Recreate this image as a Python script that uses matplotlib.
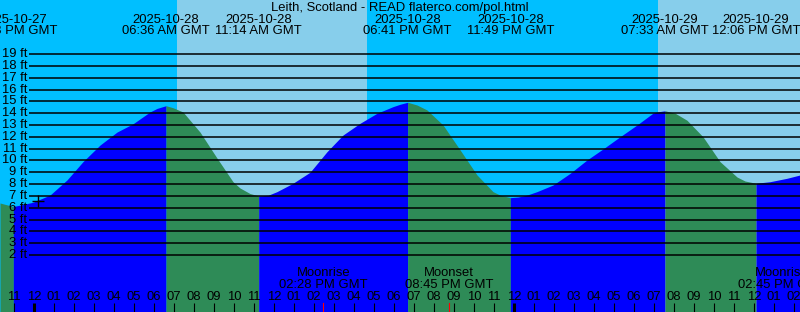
import numpy as np
import matplotlib
matplotlib.use("Agg")
import matplotlib.pyplot as plt
from matplotlib.transforms import blended_transform_factory

# hours since 2025-10-28 00:00 GMT, tide height in ft
tide_hours = [-1.7, -1.033, -0.05, 0.8, 1.65, 2.45, 3.3, 4.15, 4.95, 5.8, 6.15, 6.6,
              6.95, 7.45, 8.3, 9.15, 9.95, 10.3, 10.8, 11.233, 11.7, 12.15, 12.95,
              13.8, 14.65, 15.45, 16.3, 17.15, 17.95, 18.3, 18.683, 19.15, 19.65,
              20.45, 21.3, 22.15, 22.95, 23.3, 23.817, 24.2, 24.65, 25.15, 25.95,
              26.8, 27.65, 28.45, 29.3, 30.15, 30.95, 31.15, 31.55, 32.05, 32.65,
              33.45, 34.3, 35.15, 35.55, 36.1, 36.8, 37.65, 38.3]
tide_ft = [6.4, 6.1, 6.46, 7.07, 8.35, 9.9, 11.3, 12.4, 13.1, 14.1, 14.4, 14.63,
           14.46, 14.1, 12.4, 10.2, 8.2, 7.67, 7.2, 7.0, 7.05, 7.36, 8.07,
           9.0, 10.74, 12.15, 13.14, 13.99, 14.55, 14.75, 14.92, 14.69, 14.27,
           13.0, 10.9, 8.77, 7.36, 7.07, 6.85, 6.9, 7.07, 7.36, 7.92,
           8.9, 10.04, 10.97, 12.0, 13.0, 14.0, 14.1, 14.2, 14.0, 13.4,
           12.0, 9.9, 8.6, 8.26, 8.07, 8.2, 8.49, 8.77]

# high / low tide events
event_hours = [-1.033, 6.6, 11.233, 18.683, 23.817, 31.55, 36.1]
event_kind = ["low", "high", "low", "high", "low", "high", "low"]
event_date = ["2025-10-27", "2025-10-28", "2025-10-28", "2025-10-28",
              "2025-10-28", "2025-10-29", "2025-10-29"]
event_time = ["10:58 PM GMT", "06:36 AM GMT", "11:14 AM GMT", "06:41 PM GMT",
              "11:49 PM GMT", "07:33 AM GMT", "12:06 PM GMT"]

# daylight (sunrise, sunset)
day_spans = [(7.15, 16.65), (31.2, 40.0)]

moon_hours = [14.467, 20.75, 38.75]
moon_names = ["Moonrise", "Moonset", "Moonrise"]
moon_times = ["02:28 PM GMT", "08:45 PM GMT", "02:45 PM GMT"]

now_hour, now_ft = 0.175, 6.55
ft_lines = list(range(2, 20))
title = "Leith, Scotland - READ flaterco.com/pol.html"

NIGHT = "#00bfff"
DAY = "#87ceeb"
FLOOD = "#0000ff"
EBB = "#2e8b57"

W, H = 800, 312
def px_h(x):
    return (x - 34) / 20.0
def py_ft(y):
    return 2 + (255 - y) / 11.82
def yfrac(y):
    return 1 - y / H

plt.rcParams['font.family'] = ['Liberation Sans', 'DejaVu Sans']
fs = 9.4

fig = plt.figure(figsize=(8, 3.12), dpi=100)
ax = fig.add_axes([0, 0, 1, 1])
x0, x1 = px_h(0), px_h(W)
y0, y1 = py_ft(H), py_ft(0)
ax.set_xlim(x0, x1)
ax.set_ylim(y0, y1)
ax.axis('off')
fig.patch.set_facecolor(NIGHT)
ax.axvspan(x0, x1, color=NIGHT, lw=0, zorder=0)
for a, b in day_spans:
    ax.axvspan(a, b, color=DAY, lw=0, zorder=0)

t = np.array(tide_hours)
v = np.array(tide_ft)
bounds = [x0 - 1] + event_hours + [x1 + 1]
for i in range(len(bounds) - 1):
    a, b = bounds[i], bounds[i + 1]
    m = (t >= a) & (t <= b)
    if m.sum() < 2:
        continue
    # rising toward a high -> flood colour, else ebb
    if i < len(event_kind):
        rising = event_kind[i] == "high"
    else:
        rising = event_kind[-1] == "low"
    ax.fill_between(t[m], y0, v[m], color=FLOOD if rising else EBB,
                    lw=0, zorder=1)

ax.hlines(ft_lines, px_h(29), x1, color='black', lw=1.1, zorder=3)
for f in ft_lines:
    ax.text(px_h(27), f, f"{f} ft", ha='right', va='center', fontsize=fs,
            zorder=4)

ax.plot(now_hour, now_ft, marker='+', ms=9, mew=1, color='black', zorder=5)

tr = blended_transform_factory(ax.transData, ax.transAxes)
ax.text(0.5, yfrac(7.5), title, transform=ax.transAxes, ha='center',
        va='center', fontsize=fs, zorder=4)
for h, d, s in zip(event_hours, event_date, event_time):
    ax.text(h, yfrac(20), d, transform=tr, ha='center', va='center',
            fontsize=fs, zorder=4)
    ax.text(h, yfrac(31.5), s, transform=tr, ha='center', va='center',
            fontsize=fs, zorder=4)

# hour ticks, thick at midnight
for hr in range(-1, 39):
    lw = 2.2 if hr % 24 == 0 else 0.8
    ax.plot([hr, hr], [yfrac(303), 0], transform=tr, color='black', lw=lw,
            solid_capstyle='butt', zorder=4)
    lab = "%02d" % ((hr % 12) or 12)
    ax.text(hr, yfrac(297.5), lab, transform=tr, ha='center', va='center',
            fontsize=fs, zorder=4)

for h, n, s in zip(moon_hours, moon_names, moon_times):
    ax.plot([h, h], [yfrac(303), 0], transform=tr, color='red', lw=0.8,
            zorder=4)
    hx = min(h, x1 - 0.9)
    ax.text(hx, yfrac(273.5), n, transform=tr, ha='center', va='center',
            fontsize=fs, zorder=4)
    ax.text(hx, yfrac(285), s, transform=tr, ha='center', va='center',
            fontsize=fs, zorder=4)

fig.savefig("out.png", dpi=100, facecolor=fig.get_facecolor())
